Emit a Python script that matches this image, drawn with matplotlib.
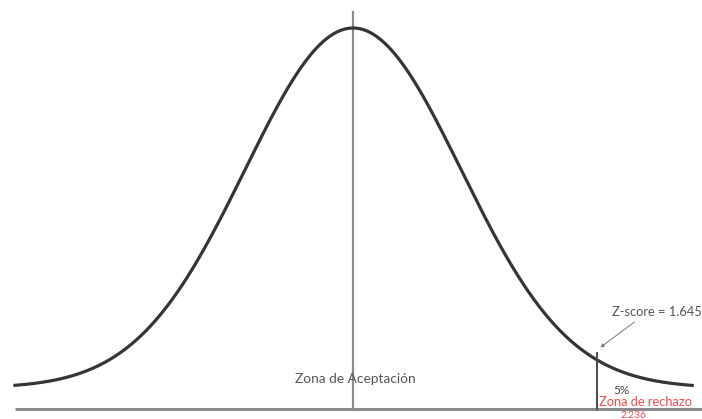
import numpy as np
import matplotlib
matplotlib.use("Agg")
import matplotlib.pyplot as plt

# ---- data ----
mean = 0.0
sd = 1.0
z_start = -3.13          # left end of curve
z_end = 3.14             # right end of curve
z_crit_pos = 2.26        # drawn position of critical line
z_label = "Z-score = 1.645"
pct_label = "5%"
reject_label = "Zona de rechazo"
accept_label = "Zona de Aceptación"
bottom_label = "2.236"

z = np.linspace(z_start, z_end, 600)
pdf = np.exp(-0.5 * ((z - mean) / sd) ** 2)   # normalised: peak = 1

fig = plt.figure(figsize=(7.02, 4.19), dpi=100)
ax = fig.add_axes([0, 0, 1, 1])
ax.set_xlim(-3.269, 3.231)
ax.set_ylim(-0.0861, 1.0778)
ax.axis("off")

font = ["Lato", "DejaVu Sans"]

# baseline
ax.plot([-3.13, 3.231], [-0.0583, -0.0583], color="#8a8a8a", lw=2.2, solid_capstyle="butt")
# centre line
ax.plot([mean, mean], [-0.0583, 1.044], color="#8c8c8c", lw=1.6)
# curve
ax.plot(z, pdf, color="#353535", lw=2.3)
# critical line
ycrit = np.exp(-0.5 * ((z_crit_pos - mean) / sd) ** 2)
ax.plot([z_crit_pos, z_crit_pos], [-0.0583, ycrit + 0.02], color="#4a4a4a", lw=1.4)

# annotations
ax.annotate(z_label, xy=(z_crit_pos + 0.03, ycrit + 0.035), xytext=(2.40, 0.21),
            fontsize=9.3, color="#555555", family=font, ha="left", va="center",
            arrowprops=dict(arrowstyle="-|>", color="#777777", lw=0.7,
                            mutation_scale=5, shrinkA=1, shrinkB=0,
                            relpos=(0.3, 0.0)))
ax.text(2.41, -0.008, pct_label, fontsize=8.5, color="#444444", family=font,
        ha="left", va="center")
ax.text(2.28, -0.038, reject_label, fontsize=9.3, color="#ee4d4d", family=font,
        ha="left", va="center")
ax.text(2.48, -0.0835, bottom_label, fontsize=7.3, color="#ee4d4d", family=font,
        ha="left", va="baseline")
ax.text(-0.54, 0.026, accept_label, fontsize=9.8, color="#555555", family=font,
        ha="left", va="center")

fig.savefig("out.png", dpi=100)
